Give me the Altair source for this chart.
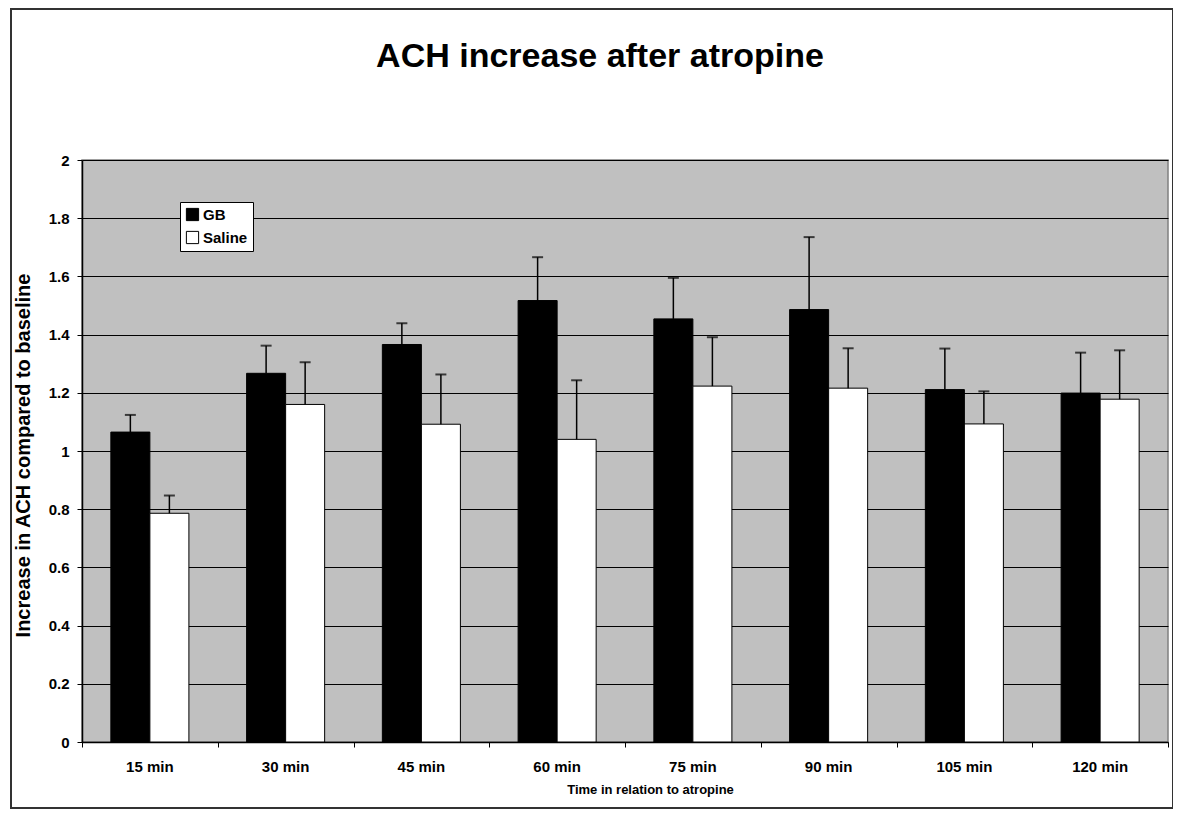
import altair as alt
import pandas as pd

times = ["15 min", "30 min", "45 min", "60 min", "75 min", "90 min", "105 min", "120 min"]
groups = ["GB", "Saline"]
gb_mean = [1.065, 1.267, 1.366, 1.517, 1.454, 1.486, 1.211, 1.199]
gb_err = [0.059, 0.095, 0.073, 0.149, 0.141, 0.249, 0.141, 0.139]
saline_mean = [0.786, 1.160, 1.092, 1.040, 1.223, 1.216, 1.093, 1.178]
saline_err = [0.061, 0.145, 0.171, 0.203, 0.168, 0.137, 0.112, 0.168]
y_ticks = [0, 0.2, 0.4, 0.6, 0.8, 1, 1.2, 1.4, 1.6, 1.8, 2]
boundaries = [0, 1, 2, 3, 4, 5, 6, 7, 8]

rows = []
for i, t in enumerate(times):
    rows.append({"time": t, "group": "GB", "mean": gb_mean[i], "upper": gb_mean[i] + gb_err[i]})
    rows.append({"time": t, "group": "Saline", "mean": saline_mean[i], "upper": saline_mean[i] + saline_err[i]})
df = pd.DataFrame(rows)
bdf = pd.DataFrame({"b": boundaries})

FONT = "Liberation Sans"
W, H = 1086, 582

x_enc = alt.X("time:N", sort=times,
              scale=alt.Scale(paddingInner=0.425, paddingOuter=0.2125),
              axis=alt.Axis(title="Time in relation to atropine", ticks=False, tickSize=0,
                            labelAngle=0, labelPadding=17, labelFontSize=15,
                            labelFontWeight="bold", labelColor="black",
                            titleFontSize=13, titleFontWeight="bold", titleColor="black",
                            titleX=568, titleY=51, titleBaseline="alphabetic",
                            domainColor="black", domainWidth=1.5, grid=False))
xoff = alt.XOffset("group:N", sort=groups, scale=alt.Scale(paddingInner=0, paddingOuter=0))
y_enc = alt.Y("mean:Q", scale=alt.Scale(domain=[0, 2], nice=False),
              axis=alt.Axis(title="Increase in ACH compared to baseline", values=y_ticks,
                            format="~g", tickSize=5, tickColor="black", labelPadding=8,
                            labelFontSize=15, labelFontWeight="bold", labelColor="black",
                            titleFontSize=20, titleFontWeight="bold", titleColor="black",
                            titleX=-53, titleY=295, titleBaseline="alphabetic",
                            domainColor="black", domainWidth=1.5,
                            grid=True, gridColor="black", gridWidth=1))

bars = alt.Chart(df).mark_bar(stroke="black", strokeWidth=1).encode(
    x=x_enc, xOffset=xoff, y=y_enc,
    fill=alt.Fill("group:N", sort=groups,
                  scale=alt.Scale(domain=groups, range=["black", "white"]),
                  legend=alt.Legend(title=None, orient="none", legendX=98, legendY=42,
                                    fillColor="white", strokeColor="black", padding=5,
                                    symbolType="square", symbolSize=150,
                                    symbolStrokeColor="black", symbolStrokeWidth=1,
                                    labelFontSize=15, labelFontWeight="bold",
                                    labelColor="black", rowPadding=6, labelOffset=3)),
)

err = alt.Chart(df).mark_rule(color="black", strokeWidth=1.5).encode(
    x=alt.X("time:N", sort=times), xOffset=alt.XOffset("group:N", sort=groups),
    y="mean:Q", y2="upper:Q",
)
caps = alt.Chart(df).mark_tick(color="black", thickness=2, size=11, orient="horizontal").encode(
    x=alt.X("time:N", sort=times), xOffset=alt.XOffset("group:N", sort=groups),
    y="upper:Q",
)

ticks_layer = alt.Chart(bdf).mark_point(opacity=0).encode(
    x=alt.X("b:Q", scale=alt.Scale(domain=[0, 8], nice=False, zero=False),
            axis=alt.Axis(orient="bottom", values=boundaries, labels=False, domain=False,
                          grid=False, tickSize=5, tickColor="black", tickWidth=1, title=None)),
)

border = alt.Chart(bdf).mark_rect(fill=None, stroke="#333333", strokeWidth=1.5).encode(
    x=alt.value(-71), x2=alt.value(1091), y=alt.value(-151), y2=alt.value(648)
)

main = alt.layer(bars, err, caps)
chart = alt.layer(main, ticks_layer, border).resolve_scale(x="independent").properties(
    width=W, height=H,
    title=alt.TitleParams("ACH increase after atropine", fontSize=34, fontWeight="bold",
                          font=FONT, color="black", anchor="middle", dx=-25, offset=-66),
    autosize=alt.AutoSizeParams(type="none"),
    padding={"left": 74, "top": 152, "right": 5, "bottom": 67},
).configure(font=FONT, background="white").configure_view(
    fill="#C0C0C0", stroke="#808080", strokeWidth=1.5
)

chart.save("out.html", embed_options={"renderer": "svg", "actions": False})
